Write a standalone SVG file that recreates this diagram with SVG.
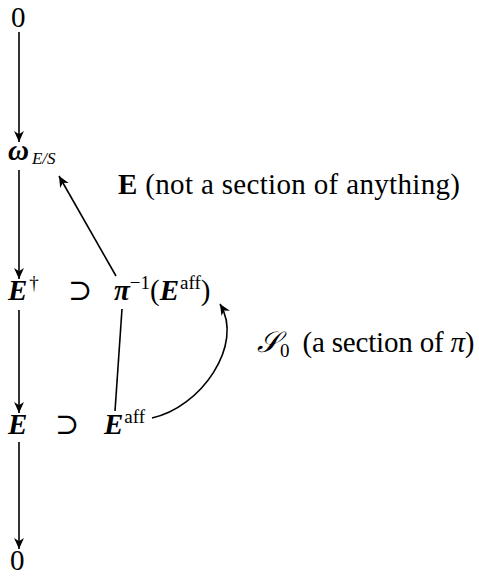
<svg xmlns="http://www.w3.org/2000/svg" width="479" height="576" viewBox="0 0 479 576">
<defs>
<marker id="ah" viewBox="0 0 10 10" refX="10" refY="5" markerWidth="11" markerHeight="11" markerUnits="userSpaceOnUse" orient="auto">
<path d="M0,0.5 L10,5 L0,9.5 L3,5 Z" fill="#000"/>
</marker>
<style>
text{font-family:"Liberation Serif","DejaVu Serif",serif;fill:#000}
.m{font-size:29px}
.bi{font-weight:bold;font-style:italic}
.sup{font-size:19px}
.sub{font-size:17px;font-style:italic}
.c{stroke:#000;stroke-width:1.6;fill:none}
</style>
</defs>
<rect width="479" height="576" fill="#fff"/>
<g id="zero-top"><text class="m" x="11" y="27">0</text></g>
<g id="omega"><text class="m" x="8" y="160"><tspan class="bi">ω</tspan><tspan class="sub" dx="3" dy="4">E/S</tspan></text></g>
<g id="label-E"><text class="m" x="118" y="194" textLength="342" lengthAdjust="spacing"><tspan font-weight="bold">E</tspan> (not a section of anything)</text></g>
<g id="Edagger"><text class="m" x="8" y="300"><tspan class="bi">E</tspan><tspan class="sup" dx="2" dy="-11">†</tspan></text></g>
<g id="supset1"><text class="m" x="68" y="300">⊃</text></g>
<g id="piinv"><text class="m" x="114" y="300"><tspan class="bi">π</tspan><tspan class="sup" dy="-11">−1</tspan><tspan dy="11">(</tspan><tspan class="bi">E</tspan><tspan class="sup" dx="1" dy="-11">aff</tspan><tspan dy="11">)</tspan></text></g>
<g id="S0"><text class="m" x="257" y="352"><tspan font-style="italic">𝒮</tspan><tspan class="sup" dx="1" dy="5">0</tspan><tspan dx="13" dy="-5" textLength="172" lengthAdjust="spacing">(a section of <tspan font-style="italic">π</tspan>)</tspan></text></g>
<g id="E"><text class="m bi" x="8" y="434">E</text></g>
<g id="supset2"><text class="m" x="55" y="434">⊃</text></g>
<g id="Eaff"><text class="m" x="104" y="434"><tspan class="bi">E</tspan><tspan class="sup" dx="1" dy="-11">aff</tspan></text></g>
<g id="zero-bottom"><text class="m" x="10" y="570">0</text></g>
<g id="connectors">
<line class="c" x1="19" y1="32" x2="19" y2="142" marker-end="url(#ah)"/>
<line class="c" x1="19" y1="170" x2="19" y2="279" marker-end="url(#ah)"/>
<line class="c" x1="19" y1="310" x2="19" y2="413" marker-end="url(#ah)"/>
<line class="c" x1="19" y1="442" x2="19" y2="549" marker-end="url(#ah)"/>
<line class="c" x1="116" y1="276" x2="59" y2="176" marker-end="url(#ah)"/>
<line class="c" x1="122" y1="309" x2="115" y2="411"/>
<path class="c" d="M152,418 C200,408 245,345 220,304" marker-end="url(#ah)"/>
</g>
</svg>
